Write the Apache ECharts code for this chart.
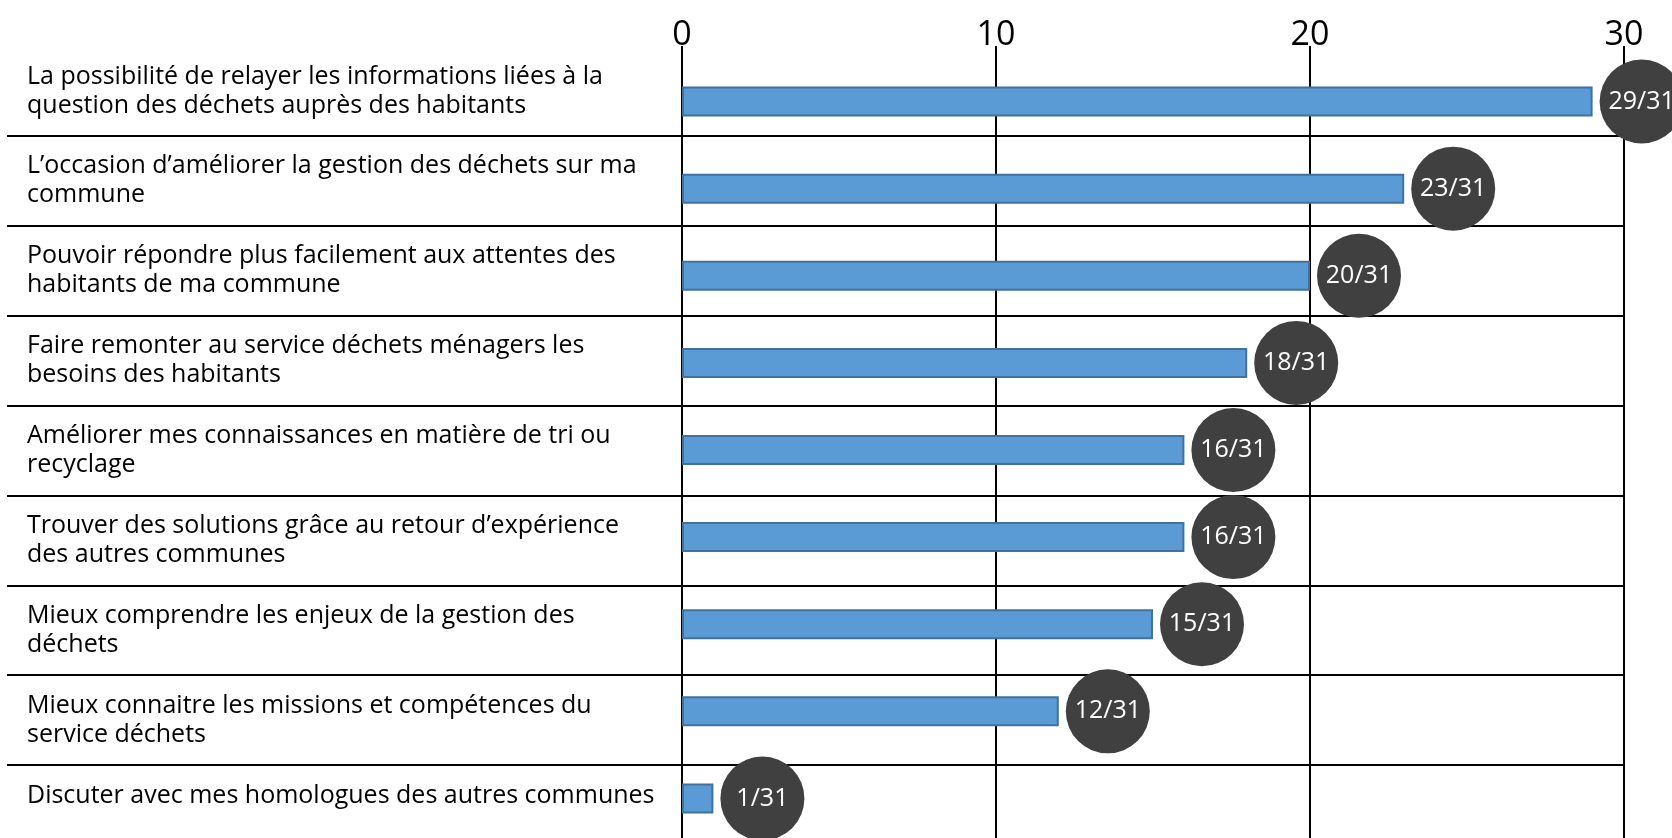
<!DOCTYPE html>
<html>
<head>
<meta charset="utf-8">
<script src="https://cdn.jsdelivr.net/npm/echarts@6/dist/echarts.min.js"></script>
<style>
  html, body { margin: 0; padding: 0; background: #fff; }
  #chart { width: 1672px; height: 838px; }
</style>
</head>
<body>
<div id="chart"></div>
<script>
// réponses (sur 31 communes)
const total = 31;

const categories = [
  "La possibilité de relayer les informations liées à la\nquestion des déchets auprès des habitants",
  "L’occasion d’améliorer la gestion des déchets sur ma\ncommune",
  "Pouvoir répondre plus facilement aux attentes des\nhabitants de ma commune",
  "Faire remonter au service déchets ménagers les\nbesoins des habitants",
  "Améliorer mes connaissances en matière de tri ou\nrecyclage",
  "Trouver des solutions grâce au retour d’expérience\ndes autres communes",
  "Mieux comprendre les enjeux de la gestion des\ndéchets",
  "Mieux connaitre les missions et compétences du\nservice déchets",
  "Discuter avec mes homologues des autres communes\n",
];

const counts = [29, 23, 20, 18, 16, 16, 15, 12, 1];

const xTicks = [0, 10, 20, 30];

const font = "'Open Sans', sans-serif";
const black = "#000";

const chart = echarts.init(document.getElementById("chart"));

// grille 0 : le tableau (traits + libellés), grille 1 : les barres
const option = {
  animation: false,
  grid: [
    { left: 682, right: 48, top: 46, height: 809, outerBoundsMode: "none" },
    { left: 682, right: 48, top: 58, height: 784, outerBoundsMode: "none" },
  ],
  xAxis: [
    {
      type: "value",
      gridIndex: 0,
      position: "top",
      min: xTicks[0],
      max: xTicks[xTicks.length - 1],
      interval: 10,
      axisLine: { show: false },
      axisTick: { show: false },
      axisLabel: {
        color: black,
        fontSize: 34,
        fontFamily: font,
        margin: -6,
      },
      splitLine: {
        show: true,
        lineStyle: { color: black, width: 2 },
      },
    },
    {
      type: "value",
      gridIndex: 1,
      min: xTicks[0],
      max: xTicks[xTicks.length - 1],
      show: false,
    },
  ],
  yAxis: [
    {
      type: "category",
      gridIndex: 0,
      inverse: true,
      data: categories,
      axisLine: { show: false },
      // traits du tableau côté libellés
      axisTick: {
        show: true,
        length: 675,
        interval: (i) => i > 0,
        lineStyle: { color: black, width: 2 },
      },
      splitLine: {
        show: true,
        interval: (i) => i > 0,
        lineStyle: { color: black, width: 2 },
      },
      axisLabel: {
        interval: 0,
        align: "left",
        margin: 655,
        color: black,
        fontSize: 25,
        lineHeight: 29,
        fontFamily: font,
      },
    },
    {
      type: "category",
      gridIndex: 1,
      inverse: true,
      data: categories,
      show: false,
    },
  ],
  series: [
    {
      type: "bar",
      xAxisIndex: 1,
      yAxisIndex: 1,
      data: counts,
      barWidth: 30,
      itemStyle: {
        color: "#5B9BD5",
        borderColor: "#41719C",
        borderWidth: 2,
      },
      label: {
        show: true,
        position: "right",
        distance: 7,
        formatter: (p) => `{c|${p.value}/${total}}`,
        rich: {
          c: {
            width: 84,
            height: 84,
            lineHeight: 84,
            align: "center",
            backgroundColor: "#404040",
            borderRadius: 42,
            color: "#fff",
            fontSize: 25,
            fontFamily: font,
          },
        },
      },
    },
  ],
};

chart.setOption(option);
</script>
</body>
</html>
